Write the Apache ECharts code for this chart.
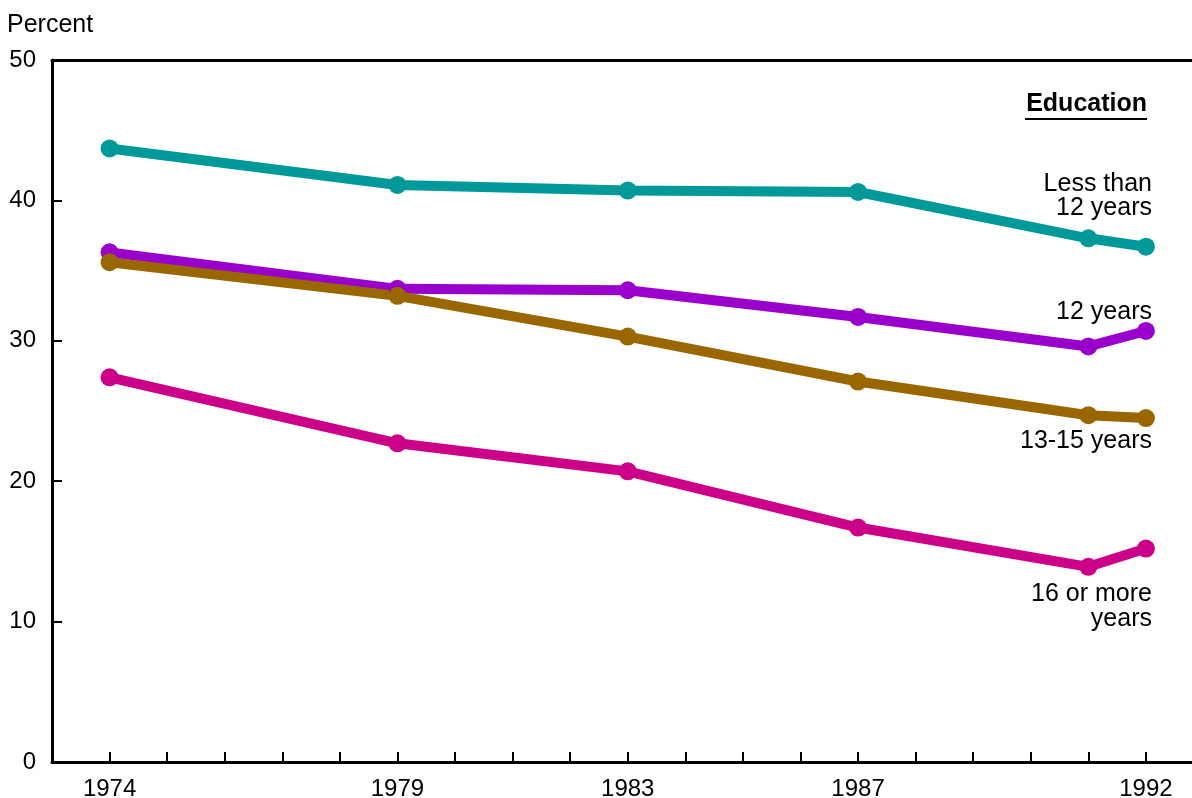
<!DOCTYPE html>
<html>
<head>
<meta charset="utf-8">
<script src="https://cdn.jsdelivr.net/npm/echarts@6/dist/echarts.min.js"></script>
<style>html,body{margin:0;padding:0;background:#fff;overflow:hidden}#c{width:1192px;height:798px}</style>
</head>
<body>
<div id="c"></div>
<script>
const years = [1974, 1979, 1983, 1987, 1991, 1992];
const xLabelYears = [1974, 1979, 1983, 1987, 1992];
const yTicks = [0, 10, 20, 30, 40, 50];
const lessThan12 = [43.7, 41.1, 40.7, 40.6, 37.3, 36.7];
const twelveYears = [36.3, 33.7, 33.6, 31.7, 29.6, 30.7];
const thirteen15 = [35.6, 33.2, 30.3, 27.1, 24.7, 24.5];
const sixteenPlus = [27.4, 22.7, 20.7, 16.7, 13.9, 15.2];

const seriesDefs = [
  {name: 'Less than 12 years', data: lessThan12, color: '#009999'},
  {name: '12 years', data: twelveYears, color: '#9900CC'},
  {name: '13-15 years', data: thirteen15, color: '#996600'},
  {name: '16 or more years', data: sixteenPlus, color: '#CC0088'}
];

const tickYears = [];
for (let y = 1974; y <= 1992; y++) tickYears.push(y);

const font = 'Liberation Sans, Arial, sans-serif';
const chart = echarts.init(document.getElementById('c'));
const T = (text, x, y, bold) => ({type: 'text', style: {text: text, x: x, y: y, fill: '#000', font: (bold ? 'bold ' : '') + '25px ' + font, textAlign: 'right', textVerticalAlign: 'middle'}});

chart.setOption({
  animation: false,
  backgroundColor: '#fff',
  grid: {left: 52, top: 60, right: 0, bottom: 36, containLabel: false, outerBoundsMode: 'none'},
  xAxis: [{
    type: 'value', min: 1973, max: 1992.8,
    axisLine: {show: true, lineStyle: {color: '#000', width: 3}},
    axisTick: {show: true, inside: true, length: 10, customValues: tickYears, lineStyle: {color: '#000', width: 2}},
    splitLine: {show: false},
    axisLabel: {
      margin: 15, color: '#000', fontSize: 24, fontFamily: font,
      customValues: xLabelYears,
      formatter: v => String(v)
    }
  }, {
    type: 'value', position: 'top', min: 1973, max: 1992.8,
    axisLine: {show: true, onZero: false, lineStyle: {color: '#000', width: 3}},
    axisTick: {show: false}, axisLabel: {show: false}, splitLine: {show: false}
  }],
  yAxis: {
    type: 'value', min: 0, max: 50, interval: 10,
    axisLine: {show: true, lineStyle: {color: '#000', width: 3}},
    axisTick: {show: true, inside: true, length: 10, lineStyle: {color: '#000', width: 2}},
    splitLine: {show: false},
    axisLabel: {
      margin: 16, color: '#000', fontSize: 24, fontFamily: font,
      padding: [4, 0, 0, 0],
      formatter: v => yTicks.indexOf(v) >= 0 ? String(v) : ''
    }
  },
  series: seriesDefs.map(s => ({
    type: 'line', name: s.name,
    data: years.map((y, i) => [y, s.data[i]]),
    symbol: 'circle', symbolSize: 18,
    lineStyle: {color: s.color, width: 10},
    itemStyle: {color: s.color},
    z: 3
  })),
  graphic: [
    {type: 'text', style: {text: 'Percent', x: 7, y: 25, fill: '#000', font: '25px ' + font, textAlign: 'left', textVerticalAlign: 'middle'}},
    T('Education', 1147, 104, true),
    {type: 'line', shape: {x1: 1025, y1: 119, x2: 1147, y2: 119}, style: {stroke: '#000', lineWidth: 2}},
    T('Less than', 1152, 184),
    T('12 years', 1152, 208),
    T('12 years', 1152, 312),
    T('13-15 years', 1152, 441),
    T('16 or more', 1152, 594),
    T('years', 1152, 619)
  ]
});
</script>
</body>
</html>
